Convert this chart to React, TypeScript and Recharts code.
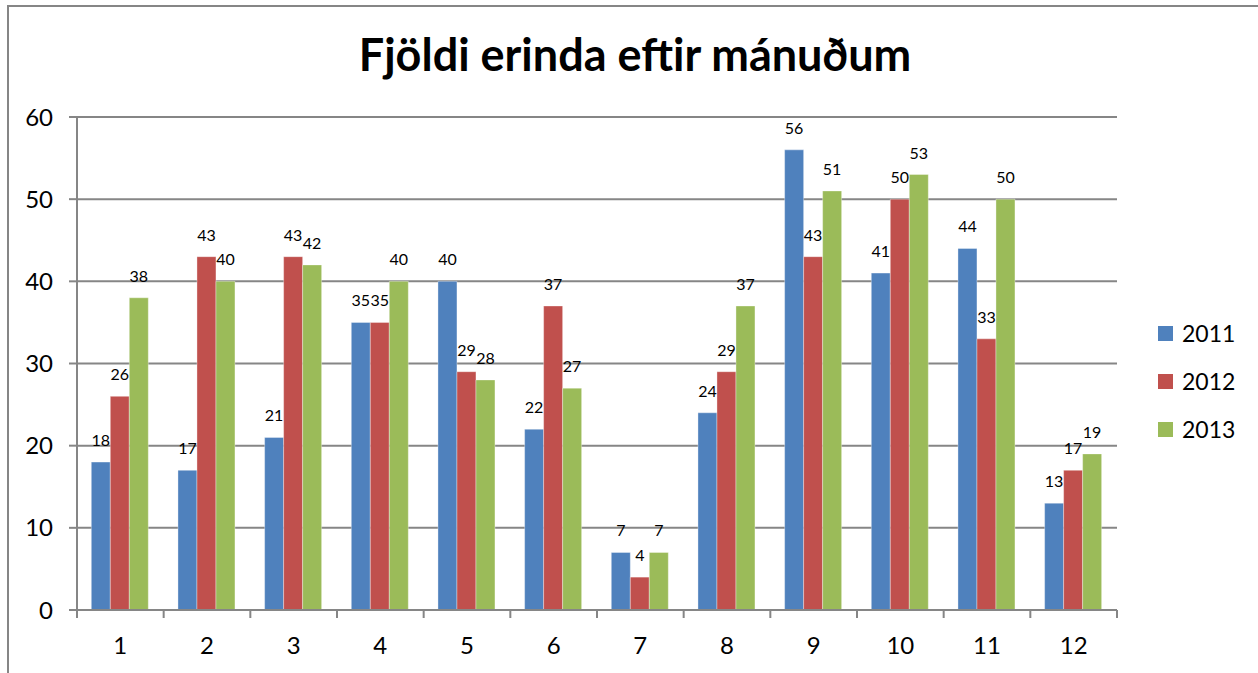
import React from 'react';
import { BarChart, Bar, XAxis, YAxis, CartesianGrid, LabelList } from 'recharts';

const months = ['1', '2', '3', '4', '5', '6', '7', '8', '9', '10', '11', '12'];
const s2011 = [18, 17, 21, 35, 40, 22, 7, 24, 56, 41, 44, 13];
const s2012 = [26, 43, 43, 35, 29, 37, 4, 29, 43, 50, 33, 17];
const s2013 = [38, 40, 42, 40, 28, 27, 7, 37, 51, 53, 50, 19];
const yTicks = [0, 10, 20, 30, 40, 50, 60];
const seriesNames = ['2011', '2012', '2013'];
const colors = ['#4F81BD', '#C0504D', '#9BBB59'];

const data = months.map((m, i) => ({ m, a: s2011[i], b: s2012[i], c: s2013[i] }));

const W = 1258;
const H = 673;
const XH = 30;
const M = { top: 117, right: 141, bottom: 63 - XH, left: 17 };
const YW = 60;
const FONT = 'Lato, "Open Sans", sans-serif';
const halfBand = (W - M.left - YW - M.right) / months.length / 2;

const XTick = (props: any) => {
  const { x, y, payload, index } = props;
  const last = index === months.length - 1;
  return (
    <g>
      <line x1={x - halfBand} x2={x - halfBand} y1={y - 8} y2={y} stroke="#868686" strokeWidth={2} />
      {last && <line x1={x + halfBand} x2={x + halfBand} y1={y - 8} y2={y} stroke="#868686" strokeWidth={2} />}
      <text x={x} y={y + 36} textAnchor="middle" fontSize={24} fontFamily={FONT} fill="#000">
        {payload.value}
      </text>
    </g>
  );
};

export default function App() {
  return (
    <div style={{ position: 'fixed', left: 0, top: 0, width: W, height: H, background: '#fff', overflow: 'hidden' }}>
      <div style={{ position: 'absolute', left: 7, top: 5, width: W, height: H, borderLeft: '2px solid #868686', borderTop: '2px solid #868686' }} />
      <div style={{ position: 'absolute', left: 0, top: 27, width: 1270, textAlign: 'center', fontFamily: FONT, fontWeight: 'bold', fontSize: 45, color: '#000' }}>
        Fjöldi erinda eftir mánuðum
      </div>
      <div style={{ position: 'absolute', left: 1158, top: 309, fontFamily: FONT, fontSize: 23, color: '#000' }}>
        {seriesNames.map((n, i) => (
          <div key={n} style={{ display: 'flex', alignItems: 'center', height: 48 }}>
            <div style={{ width: 15, height: 15, background: colors[i], marginRight: 9 }} />
            <span>{n}</span>
          </div>
        ))}
      </div>
      <div style={{ position: 'absolute', left: 0, top: 0 }}>
        <BarChart width={W} height={H} data={data} margin={M} barCategoryGap="16.5%" barGap={0}>
          <CartesianGrid vertical={false} stroke="#868686" strokeWidth={2} />
          <XAxis dataKey="m" height={XH} axisLine={{ stroke: '#868686', strokeWidth: 2 }} tickLine={false} tick={<XTick />} interval={0} />
          <YAxis
            width={YW}
            domain={[0, 60]}
            ticks={yTicks}
            interval={0}
            axisLine={{ stroke: '#868686', strokeWidth: 2 }}
            tickLine={{ stroke: '#868686', strokeWidth: 2 }}
            tickSize={8}
            tickMargin={16}
            tick={{ fontSize: 24, fontFamily: FONT, fill: '#000' }}
          />
          {(['a', 'b', 'c'] as const).map((k, i) => (
            <Bar key={k} dataKey={k} name={seriesNames[i]} fill={colors[i]} stroke="rgba(255,255,255,0.35)" strokeWidth={1} isAnimationActive={false}>
              <LabelList dataKey={k} position="top" offset={16} fontSize={16} fontFamily={FONT} fill="#000" stroke="none" />
            </Bar>
          ))}
        </BarChart>
      </div>
    </div>
  );
}
